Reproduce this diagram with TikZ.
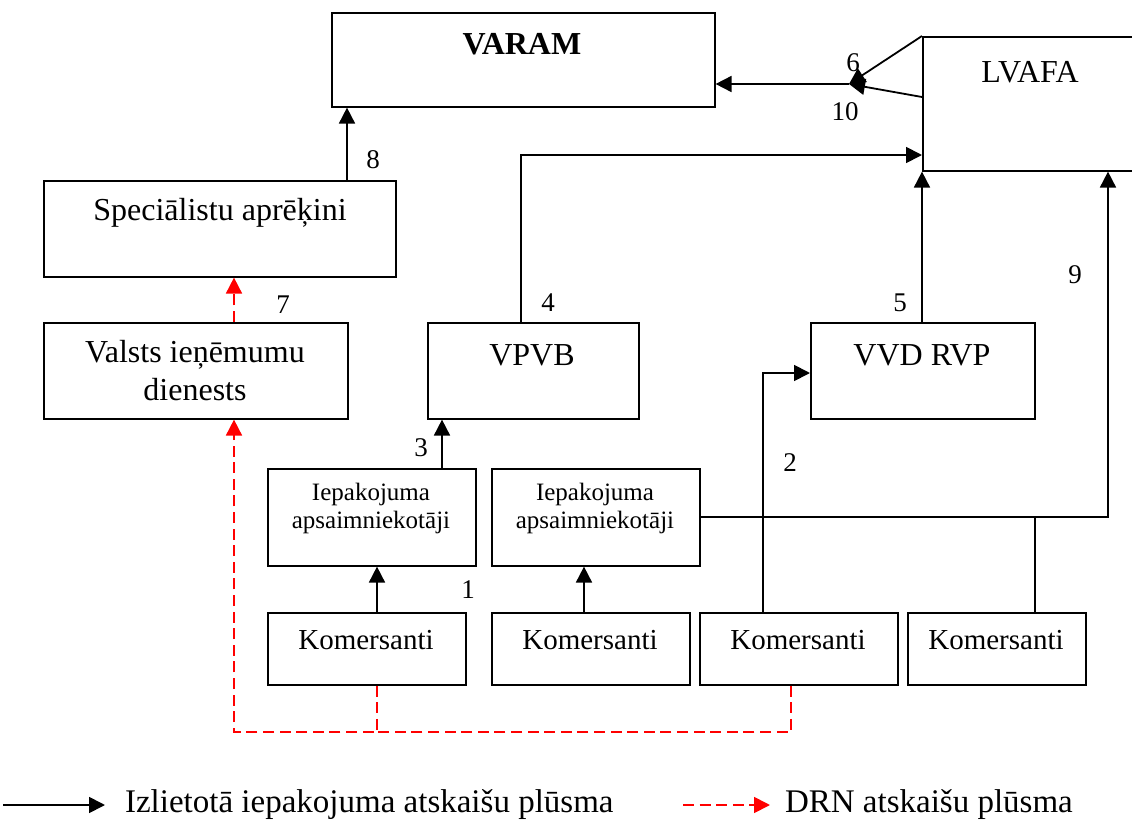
\documentclass[tikz,border=0pt]{standalone}
\usepackage{fontspec}
\setmainfont{Liberation Serif}
\usetikzlibrary{arrows.meta,positioning,calc}
\definecolor{drncolor}{RGB}{255,0,0}
\tikzset{
  box/.style 2 args={draw, line width=0.8pt, anchor=north west, inner sep=0pt,
    minimum width=#1*0.5pt, minimum height=#2*0.5pt},
  flow/.style={line width=0.9pt, -{Triangle[length=8pt,width=8pt]}},
  drn/.style={drncolor, line width=0.9pt, dash pattern=on 5.5pt off 2.8pt,
    -{Triangle[length=8pt,width=8pt]}},
  bigtxt/.style={font=\fontsize{16}{19}\selectfont, align=center},
  komtxt/.style={font=\fontsize{14.5}{17}\selectfont},
  iepaktxt/.style={font=\fontsize{12.5}{14}\selectfont, align=center},
  numtxt/.style={font=\fontsize{13.5}{16}\selectfont},
  legtxt/.style={font=\fontsize{16.5}{19}\selectfont, anchor=west}
}

\begin{document}
\begin{tikzpicture}[x=0.5pt, y=-0.5pt]
    \clip (0,0) rectangle (1132,825);

    % Boxes
    \node [box={383}{94}] (varam) at (331,12) {};
    \node [box={230}{134}] (lvafa) at (922,36) {};
    \node [box={352}{96}] (spec) at (43,180) {};
    \node [box={304}{96}] (vid) at (43,322) {};
    \node [box={211}{96}] (vpvb) at (427,322) {};
    \node [box={224}{96}] (vvd) at (810,322) {};
    \node [box={208}{97}] (iep1) at (267,468) {};
    \node [box={208}{97}] (iep2) at (491,468) {};
    \foreach \i/\x/\w in {1/267/198, 2/491/198, 3/699/198, 4/907/178} {
        \node [box={\w}{72}] (kom\i) at (\x,612) {};
        \node [komtxt] (komtxt\i) at (\x+\w/2,640) {Komersanti};
    }

    % Box texts
    \node [bigtxt] (varamtxt) at (522,44) {\textbf{VARAM}};
    \node [bigtxt] (lvafatxt) at (1030,72) {LVAFA};
    \node [bigtxt] (spectxt) at (220,213) {Speciālistu aprēķini};
    \node [bigtxt] (vidtxt) at (195,371) {Valsts ieņēmumu\\dienests};
    \node [bigtxt] (vpvbtxt) at (532,355) {VPVB};
    \node [bigtxt] (vvdtxt) at (922,355) {VVD RVP};
    \node [iepaktxt] (iep1txt) at (371,508) {Iepakojuma\\apsaimniekotāji};
    \node [iepaktxt] (iep2txt) at (595,508) {Iepakojuma\\apsaimniekotāji};

    % Report flows
    \coordinate (hub) at (849,84);
    \draw [flow] (lvafa.north west) -- (hub);
    \draw [flow] ($(lvafa.north west)+(0,61)$) -- (hub);
    \draw [flow] (hub) -- (hub -| varam.east);
    \draw [flow] (347,0 |- spec.north) -- (347,0 |- varam.south);
    \draw [flow] (521,0 |- vpvb.north) |- (lvafa.west |- 0,155);
    \draw [flow] (vvd.north -| lvafa.west) -- (lvafa.south west);
    \draw [flow] (442,0 |- iep1.north) -- (442,0 |- vpvb.south);
    \draw [flow] (377,0 |- kom1.north) -- (377,0 |- iep1.south);
    \draw [flow] (584,0 |- kom2.north) -- (584,0 |- iep2.south);
    \draw [flow] (763,0 |- kom3.north) |- (vvd.west |- 0,373);
    \draw [flow] (iep2.east) -| (1108,0 |- lvafa.south);
    \draw [line width=0.9pt] (1035,0 |- kom4.north) -- (1035,0 |- iep2.east);

    % DRN flows
    \draw [drn] (234,0 |- vid.north) -- (234,0 |- spec.south);
    \draw [drn] (377,0 |- kom1.south) -- (377,732) -| (234,0 |- vid.south);
    \draw [drn, -] (791,0 |- kom3.south) |- (377,732);

    % Numbers
    \foreach \n/\x/\y in {1/468/590, 2/790/463, 3/421/448, 4/548/303, 5/900/303,
                          6/853/63, 7/283/305, 8/373/160, 9/1075/275, 10/845/112}
        \node [numtxt] (num\n) at (\x,\y) {\n};

    % Legend
    \coordinate (legA) at (3,805);
    \coordinate (legB) at (105,805);
    \coordinate (legC) at (683,805);
    \coordinate (legD) at (770,805);
    \draw [flow] (legA) -- (legB);
    \draw [drn] (legC) -- (legD);
    \node [legtxt] (legflow) at (118,805) {Izlietotā iepakojuma atskaišu plūsma};
    \node [legtxt] (legdrn) at (778,805) {DRN atskaišu plūsma};
\end{tikzpicture}
\end{document}
